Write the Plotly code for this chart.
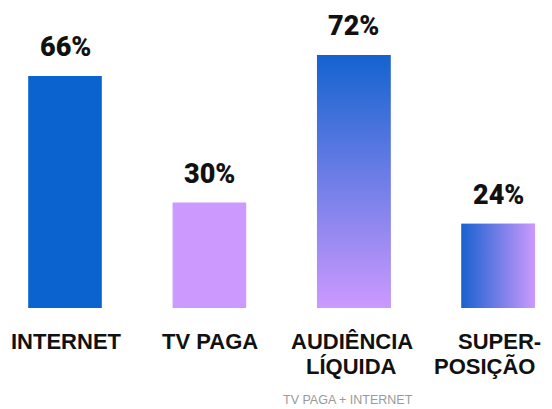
import plotly.graph_objects as go

# ---- data ----
category_lines = [["INTERNET"], ["TV PAGA"], ["AUDIÊNCIA", "LÍQUIDA"], ["SUPER-", "POSIÇÃO"]]
values = [66, 30, 72, 24]
value_labels = ["66%", "30%", "72%", "24%"]
subtitle = "TV PAGA + INTERNET"

# ---- style ----
BLUE = "#0b63cf"
PURPLE = "#cc99ff"
bar_colors = [BLUE, PURPLE, "#7a80e6", "#7a80e6"]
gradients = [None, None, "vertical", "horizontal"]
line_xshift = [[1], [1], [-1.5, -2.5], [1.5, -13.5]]
BAR_W = 0.51
OFF = 8  # page body margin of the html page

xs = list(range(len(values)))

fig = go.Figure()
fig.add_trace(go.Bar(
    x=xs, y=values, width=BAR_W,
    marker=dict(color=bar_colors, line=dict(width=0)),
    hoverinfo="skip", showlegend=False,
))

for i, (v, g) in enumerate(zip(values, gradients)):
    if g is None:
        continue
    x0, x1 = xs[i] - BAR_W / 2, xs[i] + BAR_W / 2
    if g == "vertical":
        cs = [[0, PURPLE], [1, "#1463cf"]]
    else:
        cs = [[0, "#1862cf"], [1, PURPLE]]
    fig.add_trace(go.Scatter(
        x=[x0, x1, x1, x0, x0], y=[0, 0, v, v, 0],
        mode="lines", line=dict(width=0), fill="toself",
        fillgradient=dict(type=g, colorscale=cs),
        hoverinfo="skip", showlegend=False,
    ))

for i, (v, t) in enumerate(zip(values, value_labels)):
    fig.add_annotation(
        x=xs[i], y=v, text=t, showarrow=False,
        yanchor="middle", yshift=29,
        font=dict(family="Roboto, Liberation Sans, sans-serif",
                  size=27, color="#111111", weight=900),
    )

for i, lines in enumerate(category_lines):
    for j, ln in enumerate(lines):
        fig.add_annotation(
            x=xs[i], y=0, text=ln, showarrow=False,
            yanchor="middle", yshift=-33 - 25.5 * j, xshift=line_xshift[i][j],
            font=dict(family="Liberation Sans, Arial, sans-serif", size=22,
                      color="#111111", weight="bold"),
        )

fig.add_annotation(
    x=2, xref="x", y=0, yref="paper", yanchor="middle", yshift=-92,
    text=subtitle, showarrow=False, xshift=-6,
    font=dict(family="Liberation Sans, sans-serif", size=12.5, color="#9a9a9a"),
)

fig.update_layout(
    width=552, height=409,
    margin=dict(l=0, r=0, t=0, b=409 - 308 + OFF),
    paper_bgcolor="white", plot_bgcolor="white",
    xaxis=dict(
        range=[-(65 - OFF) / 144.4, (552 - 65 + OFF) / 144.4],
        tickvals=xs, showticklabels=False,
        showgrid=False, zeroline=False, showline=False, ticks="",
        automargin=False,
    ),
    yaxis=dict(range=[0, (308 - OFF) / 3.515], visible=False, automargin=False),
    showlegend=False,
)

fig.write_html("out.html")
